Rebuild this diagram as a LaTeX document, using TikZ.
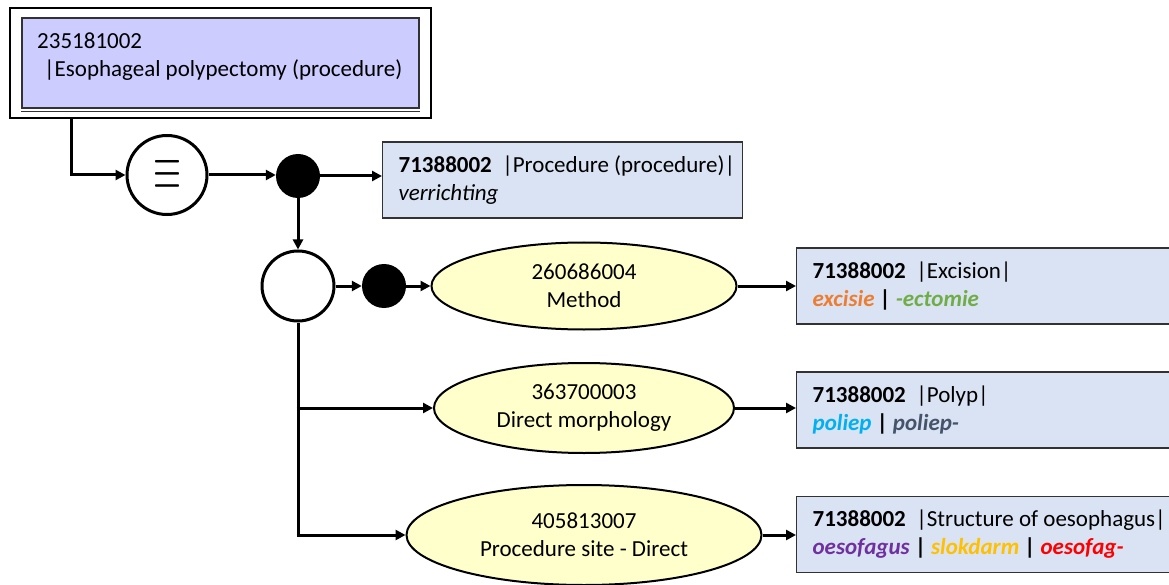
\documentclass[tikz,border=0pt]{standalone}
\usepackage{fontspec}
\setmainfont{Carlito}
\usetikzlibrary{arrows.meta,shapes.geometric,calc}

\definecolor{rootfill}{RGB}{204,204,255}
\definecolor{conceptfill}{RGB}{218,227,243}
\definecolor{attrfill}{RGB}{255,255,204}
\definecolor{boxline}{RGB}{50,50,50}
\definecolor{tOrange}{RGB}{237,125,49}
\definecolor{tGreen}{RGB}{112,173,71}
\definecolor{tCyan}{RGB}{0,176,240}
\definecolor{tSlate}{RGB}{68,84,106}
\definecolor{tPurple}{RGB}{112,48,160}
\definecolor{tGold}{RGB}{255,192,0}
\definecolor{tRed}{RGB}{255,0,0}

% natural inter-word spacing of the font inside boxed text
\newcommand{\natspace}{\spaceskip=0pt\xspaceskip=0pt\hyphenpenalty=10000\relax}

\tikzset{
  txt/.style={font=\fontsize{23}{28}\selectfont},
  arr/.style={line width=3pt,-{Triangle[length=10pt,width=10pt]}},
  link/.style={line width=3pt},
  concept/.style={txt, rectangle, draw=boxline, fill=conceptfill, line width=1.2pt,
    align=flush left, inner xsep=16pt, inner ysep=0pt, minimum height=76pt},
  attr/.style={txt, ellipse, draw=black, fill=attrfill, line width=2pt,
    align=center, inner sep=0pt},
  opencirc/.style={ellipse, draw=black, fill=white, line width=3pt, inner sep=0pt},
  dotnode/.style={ellipse, fill=black, inner sep=0pt, minimum width=44pt, minimum height=44pt}
}

\begin{document}
\begin{tikzpicture}[x=1pt,y=-1pt]
\useasboundingbox (0,0) rectangle (1169,585);

% defining concept, framed
\node (frame) [rectangle, draw=black, line width=1.2pt, minimum width=421pt, minimum height=110pt] at (220.5,63) {};
\node (root) [rectangle, draw=boxline, fill=rootfill, line width=1.2pt, minimum width=397pt, minimum height=90pt] at (220.5,63) {};
\draw[boxline, line width=1pt] ($(root.south west)+(0,3)$) -- ($(root.south east)+(0,3)$);
\node (rootlabel) [txt, anchor=west, align=left, inner sep=0pt] at (37,57)
  {235181002\\\hspace{0.3em}|Esophageal polypectomy (procedure)};

% definition status and focus concept
\node (eq) [opencirc, minimum width=80pt, minimum height=79pt] at (167,175)
  {\raisebox{1pt}{\resizebox{28pt}{29pt}{$\equiv$}}};
\node (dot1) [dotnode] at (298,176) {};
\node (proc) [concept, anchor=west, text width=328pt] at (382,180)
  {\natspace\mbox{\textbf{71388002}\ \ |Procedure (procedure)|}\\\textit{verrichting}};

% attribute group
\node (grp) [opencirc, minimum width=72pt, minimum height=70pt] at (298,286) {};
\node (dot2) [dotnode] at (384,286) {};

\node (method) [attr, minimum width=305pt, minimum height=87pt] at (584,286) {260686004\\Method};
\node (dm) [attr, minimum width=300pt, minimum height=90pt] at (584,408) {363700003\\Direct morphology};
\node (ps) [attr, minimum width=355pt, minimum height=100pt] at (584,535) {405813007\\Procedure site - Direct};

\node (excision) [concept, anchor=west, text width=380pt] at (796,286)
  {\natspace\textbf{71388002}\ \ |Excision|\\
   \textbf{\textit{\textcolor{tOrange}{excisie}}} \textbf{|} \textbf{\textit{\textcolor{tGreen}{-ectomie}}}};
\node (polyp) [concept, anchor=west, text width=380pt] at (796,410)
  {\natspace\textbf{71388002}\ \ |Polyp|\\
   \textbf{\textit{\textcolor{tCyan}{poliep}}} \textbf{|} \textbf{\textit{\textcolor{tSlate}{poliep-}}}};
\node (struct) [concept, anchor=west, text width=380pt] at (796,534.5)
  {\natspace\textbf{71388002}\ \ |Structure of oesophagus|\\
   \textbf{\textit{\textcolor{tPurple}{oesofagus}}} \textbf{|} \textbf{\textit{\textcolor{tGold}{slokdarm}}} \textbf{|} \textbf{\textit{\textcolor{tRed}{oesofag-}}}};

% connectors
\draw[arr] ($(frame.south west)+(62,0)$) |- (eq.west);
\draw[arr] (eq.east) -- (dot1.west |- eq.east);
\draw[arr] (dot1.east) -- (proc.west |- dot1.east);
\draw[arr] (dot1.south) -- (grp.north);
\draw[arr] (grp.east) -- (dot2.west);
\draw[arr] (dot2.east) -- (method.west);
\draw[arr] (method.east) -- (excision.west);
\draw[link] (grp.south) -- (grp.south |- ps.west);
\draw[arr] ([xshift=-1.5pt]grp.south |- dm.west) -- (dm.west);
\draw[arr] ([xshift=-1.5pt]grp.south |- ps.west) -- (ps.west);
\draw[arr] (dm.east) -- (polyp.west |- dm.east);
\draw[arr] (ps.east) -- (struct.west |- ps.east);
\end{tikzpicture}
\end{document}
